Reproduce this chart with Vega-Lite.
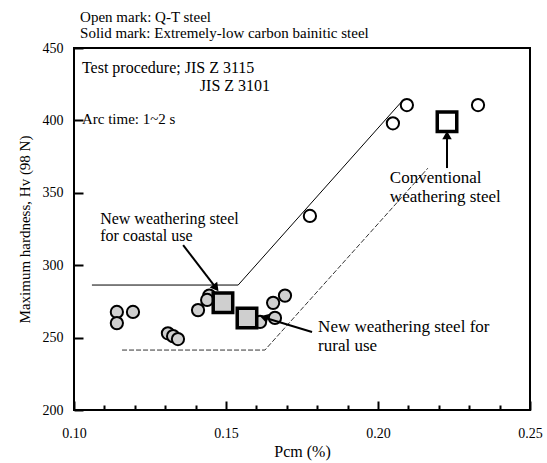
{
  "$schema": "https://vega.github.io/schema/vega-lite/v6.json",
  "width": 456,
  "height": 362,
  "autosize": "none",
  "padding": {"left": 74, "top": 48, "right": 17, "bottom": 53},
  "background": "white",
  "config": {
    "view": {"stroke": "black", "strokeWidth": 2},
    "font": "Liberation Serif",
    "axis": {
      "domain": false, "ticks": true, "tickColor": "black", "tickWidth": 2,
      "labelColor": "black", "titleColor": "black",
      "labelFont": "Liberation Serif", "titleFont": "Liberation Serif",
      "labelFontSize": 14, "titleFontSize": 15, "titleFontWeight": "normal",
      "grid": false, "labelOverlap": false, "labelFlush": false, "zindex": 1
    }
  },
  "datasets": {
    "points": [
      {"pcm": 0.1141, "hv": 267.7, "kind": "solid"},
      {"pcm": 0.1141, "hv": 260.0, "kind": "solid"},
      {"pcm": 0.1194, "hv": 267.7, "kind": "solid"},
      {"pcm": 0.1309, "hv": 253.0, "kind": "solid"},
      {"pcm": 0.1326, "hv": 251.0, "kind": "solid"},
      {"pcm": 0.1342, "hv": 249.0, "kind": "solid"},
      {"pcm": 0.1408, "hv": 269.0, "kind": "solid"},
      {"pcm": 0.1445, "hv": 279.0, "kind": "solid"},
      {"pcm": 0.1438, "hv": 276.0, "kind": "solid"},
      {"pcm": 0.1612, "hv": 260.8, "kind": "solid"},
      {"pcm": 0.1661, "hv": 263.6, "kind": "solid"},
      {"pcm": 0.1655, "hv": 274.0, "kind": "solid"},
      {"pcm": 0.1694, "hv": 279.0, "kind": "solid"},
      {"pcm": 0.1776, "hv": 334.0, "kind": "open"},
      {"pcm": 0.2049, "hv": 398.0, "kind": "open"},
      {"pcm": 0.2095, "hv": 410.6, "kind": "open"},
      {"pcm": 0.2329, "hv": 410.6, "kind": "open"}
    ],
    "squares": [
      {"pcm": 0.1490, "hv": 274.0, "kind": "solid"},
      {"pcm": 0.1569, "hv": 263.5, "kind": "solid"},
      {"pcm": 0.2227, "hv": 399.0, "kind": "open"}
    ],
    "upper": [
      {"pcm": 0.1059, "hv": 286.3},
      {"pcm": 0.1540, "hv": 286.3},
      {"pcm": 0.2082, "hv": 414.0}
    ],
    "lower": [
      {"pcm": 0.1158, "hv": 241.4},
      {"pcm": 0.1628, "hv": 241.4},
      {"pcm": 0.2164, "hv": 367.0}
    ],
    "arrows": [
      {"pcm": 0.1359, "hv": 313.9, "pcm2": 0.1467, "hv2": 284.3},
      {"pcm": 0.1783, "hv": 253.9, "pcm2": 0.1625, "hv2": 263.9},
      {"pcm": 0.2227, "hv": 367.1, "pcm2": 0.2227, "hv2": 389.9}
    ],
    "text15": [
      {"pcm": 0.1020, "hv": 471.4, "label": "Open mark: Q-T steel"},
      {"pcm": 0.1020, "hv": 460.4, "label": "Solid mark: Extremely-low carbon bainitic steel"},
      {"pcm": 0.1026, "hv": 401.0, "label": "Arc time: 1~2 s"}
    ],
    "text16": [
      {"pcm": 0.1026, "hv": 436.2, "label": "Test procedure; JIS Z 3115"},
      {"pcm": 0.1414, "hv": 423.8, "label": "JIS Z 3101"},
      {"pcm": 0.1086, "hv": 331.9, "label": "New weathering steel"},
      {"pcm": 0.1086, "hv": 320.2, "label": "for coastal use"}
    ],
    "text17": [
      {"pcm": 0.1803, "hv": 257.3, "label": "New weathering steel for"},
      {"pcm": 0.1803, "hv": 244.0, "label": "rural use"},
      {"pcm": 0.2039, "hv": 360.2, "label": "Conventional"},
      {"pcm": 0.2039, "hv": 347.1, "label": "weathering steel"}
    ]
  },
  "encoding": {
    "x": {
      "field": "pcm", "type": "quantitative",
      "scale": {"domain": [0.10, 0.25], "nice": false, "zero": false},
      "axis": {
        "title": "Pcm (%)",
        "values": [0.10, 0.11, 0.12, 0.13, 0.14, 0.15, 0.16, 0.17, 0.18, 0.19, 0.20, 0.21, 0.22, 0.23, 0.24, 0.25],
        "format": ".2f",
        "labelExpr": "round(datum.value*100) % 5 == 0 ? datum.label : ''",
        "offset": -9,
        "tickSize": 9,
        "tickDash": {"condition": {"test": "round(datum.value*100) % 5 == 0", "value": [9, 0]}, "value": [0, 4, 5, 100]},
        "labelPadding": 16,
        "titlePadding": 3,
        "titleFontSize": 16
      }
    },
    "y": {
      "field": "hv", "type": "quantitative",
      "scale": {"domain": [200, 450], "nice": false, "zero": false},
      "axis": {
        "title": "Maximum hardness, Hv (98 N)",
        "values": [200, 250, 300, 350, 400, 450],
        "offset": -9,
        "tickSize": 9,
        "labelPadding": 11,
        "titlePadding": 10
      }
    }
  },
  "layer": [
    {
      "data": {"name": "upper"},
      "mark": {"type": "line", "color": "black", "strokeWidth": 1},
      "encoding": {}
    },
    {
      "data": {"name": "lower"},
      "mark": {"type": "line", "color": "#333333", "strokeWidth": 1, "strokeDash": [5, 2]},
      "encoding": {}
    },
    {
      "data": {"name": "points"},
      "mark": {"type": "point", "shape": "circle", "filled": true, "size": 150, "stroke": "black", "strokeWidth": 2, "opacity": 1},
      "encoding": {
        "fill": {"field": "kind", "type": "nominal", "scale": {"domain": ["open", "solid"], "range": ["white", "#cfcfcf"]}, "legend": null}
      }
    },
    {
      "data": {"name": "squares"},
      "mark": {"type": "point", "shape": "square", "filled": true, "size": 380, "stroke": "black", "strokeWidth": 3.5, "opacity": 1},
      "encoding": {
        "fill": {"field": "kind", "type": "nominal", "scale": {"domain": ["open", "solid"], "range": ["white", "#cfcfcf"]}, "legend": null}
      }
    },
    {
      "data": {"name": "arrows"},
      "mark": {"type": "rule", "color": "black", "strokeWidth": 2},
      "encoding": {
        "x2": {"field": "pcm2"},
        "y2": {"field": "hv2"}
      }
    },
    {
      "data": {"values": [{"pcm": 0.1467, "hv": 284.3}]},
      "mark": {"type": "point", "shape": "triangle-up", "filled": true, "size": 90, "color": "black", "opacity": 1, "angle": 142}
    },
    {
      "data": {"values": [{"pcm": 0.1625, "hv": 263.9}]},
      "mark": {"type": "point", "shape": "triangle-up", "filled": true, "size": 90, "color": "black", "opacity": 1, "angle": 286}
    },
    {
      "data": {"values": [{"pcm": 0.2227, "hv": 389.9}]},
      "mark": {"type": "point", "shape": "triangle-up", "filled": true, "size": 90, "color": "black", "opacity": 1, "angle": 0}
    },
    {
      "data": {"name": "text15"},
      "mark": {"type": "text", "align": "left", "baseline": "middle", "font": "Liberation Serif", "fontSize": 15, "color": "black", "clip": false},
      "encoding": {"text": {"field": "label"}}
    },
    {
      "data": {"name": "text16"},
      "mark": {"type": "text", "align": "left", "baseline": "middle", "font": "Liberation Serif", "fontSize": 16, "color": "black", "clip": false},
      "encoding": {"text": {"field": "label"}}
    },
    {
      "data": {"name": "text17"},
      "mark": {"type": "text", "align": "left", "baseline": "middle", "font": "Liberation Serif", "fontSize": 17, "color": "black", "clip": false},
      "encoding": {"text": {"field": "label"}}
    }
  ]
}
